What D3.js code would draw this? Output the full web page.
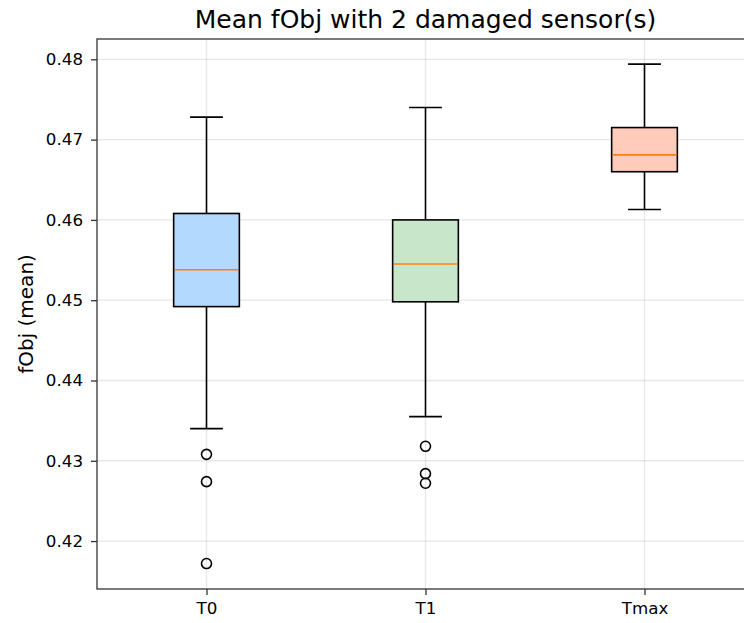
<!DOCTYPE html>
<html lang="en">
<head>
  <meta charset="UTF-8">
  <title>Mean fObj</title>
  <script src="https://d3js.org/d3.v7.min.js"></script>
  <style>
    body { margin: 0; background: #fff; }
    text { font-family: "DejaVu Sans", sans-serif; fill: #000; }
  </style>
</head>
<body>
  <svg width="744" height="623"></svg>
  <script>
    // box stats
    const categories = ["T0", "T1", "Tmax"];
    const q1 = [0.4492, 0.4498, 0.4660];
    const medians = [0.4538, 0.4545, 0.4681];
    const q3 = [0.4608, 0.4600, 0.4715];
    const whiskerLow = [0.4340, 0.4355, 0.4613];
    const whiskerHigh = [0.4728, 0.4740, 0.4794];
    const outliers = [
      [0.4308, 0.4274, 0.4172],
      [0.4318, 0.4284, 0.4272],
      []
    ];
    const boxColors = ["#b3d9ff", "#c8e6c9", "#ffccbc"];
    const yTicks = [0.42, 0.43, 0.44, 0.45, 0.46, 0.47, 0.48];

    const margin = { left: 97, top: 39, right: 754, bottom: 589 };

    const svg = d3.select("svg");

    const x = d3.scaleLinear().domain([0.5, 3.5]).range([margin.left, margin.right]);
    const y = d3.scaleLinear().domain([0.41403, 0.48253]).range([margin.bottom, margin.top]);

    // grid
    const grid = svg.append("g");
    grid.selectAll("line.h").data(yTicks).join("line")
      .attr("x1", margin.left).attr("x2", margin.right)
      .attr("y1", d => y(d)).attr("y2", d => y(d))
      .attr("stroke", "#b0b0b0").attr("stroke-opacity", 0.3).attr("stroke-width", 1.3);
    grid.selectAll("line.v").data(categories).join("line")
      .attr("x1", (d, i) => x(i + 1)).attr("x2", (d, i) => x(i + 1))
      .attr("y1", margin.top).attr("y2", margin.bottom)
      .attr("stroke", "#b0b0b0").attr("stroke-opacity", 0.3).attr("stroke-width", 1.3);

    const boxW = x(1.15) - x(0.85);
    const capW = x(1.075) - x(0.925);
    const lw = 1.6;

    const boxes = svg.append("g").selectAll("g").data(categories).join("g");

    // whiskers
    boxes.append("line")
      .attr("x1", (d, i) => x(i + 1)).attr("x2", (d, i) => x(i + 1))
      .attr("y1", (d, i) => y(q3[i])).attr("y2", (d, i) => y(whiskerHigh[i]))
      .attr("stroke", "#000").attr("stroke-width", lw);
    boxes.append("line")
      .attr("x1", (d, i) => x(i + 1)).attr("x2", (d, i) => x(i + 1))
      .attr("y1", (d, i) => y(q1[i])).attr("y2", (d, i) => y(whiskerLow[i]))
      .attr("stroke", "#000").attr("stroke-width", lw);
    // caps
    boxes.append("line")
      .attr("x1", (d, i) => x(i + 1) - capW / 2).attr("x2", (d, i) => x(i + 1) + capW / 2)
      .attr("y1", (d, i) => y(whiskerHigh[i])).attr("y2", (d, i) => y(whiskerHigh[i]))
      .attr("stroke", "#000").attr("stroke-width", lw);
    boxes.append("line")
      .attr("x1", (d, i) => x(i + 1) - capW / 2).attr("x2", (d, i) => x(i + 1) + capW / 2)
      .attr("y1", (d, i) => y(whiskerLow[i])).attr("y2", (d, i) => y(whiskerLow[i]))
      .attr("stroke", "#000").attr("stroke-width", lw);
    // box
    boxes.append("rect")
      .attr("x", (d, i) => x(i + 1) - boxW / 2)
      .attr("width", boxW)
      .attr("y", (d, i) => y(q3[i]))
      .attr("height", (d, i) => y(q1[i]) - y(q3[i]))
      .attr("fill", (d, i) => boxColors[i])
      .attr("stroke", "#000").attr("stroke-width", lw);
    // median
    boxes.append("line")
      .attr("x1", (d, i) => x(i + 1) - boxW / 2 + 1).attr("x2", (d, i) => x(i + 1) + boxW / 2 - 1)
      .attr("y1", (d, i) => y(medians[i])).attr("y2", (d, i) => y(medians[i]))
      .attr("stroke", "#ff7f0e").attr("stroke-width", lw);
    // fliers
    boxes.each(function (d, i) {
      d3.select(this).selectAll("circle").data(outliers[i]).join("circle")
        .attr("cx", x(i + 1)).attr("cy", v => y(v)).attr("r", 5)
        .attr("fill", "none").attr("stroke", "#000").attr("stroke-width", lw);
    });

    // axes
    const yAxis = svg.append("g")
      .attr("transform", `translate(${margin.left},0)`)
      .call(d3.axisLeft(y).tickValues(yTicks).tickFormat(d3.format(".2f")).tickSize(6).tickPadding(8));
    const xAxis = svg.append("g")
      .attr("transform", `translate(0,${margin.bottom})`)
      .call(d3.axisBottom(x).tickValues([1, 2, 3]).tickFormat((d, i) => categories[i]).tickSize(6).tickPadding(7));
    [yAxis, xAxis].forEach(a => {
      a.select(".domain").remove();
      a.selectAll("line").attr("stroke", "#333").attr("stroke-width", 1.3);
      a.selectAll("text").style("font-size", "16.7px").attr("fill", "#000");
    });

    // frame
    svg.append("rect")
      .attr("x", margin.left).attr("y", margin.top)
      .attr("width", margin.right - margin.left).attr("height", margin.bottom - margin.top)
      .attr("fill", "none").attr("stroke", "#333").attr("stroke-width", 1.3);

    svg.append("text")
      .attr("x", (margin.left + margin.right) / 2).attr("y", 27.5)
      .attr("text-anchor", "middle").style("font-size", "25px")
      .text("Mean fObj with 2 damaged sensor(s)");

    svg.append("text")
      .attr("transform", `translate(33,${(margin.top + margin.bottom) / 2}) rotate(-90)`)
      .attr("text-anchor", "middle").style("font-size", "20px")
      .text("fObj (mean)");
  </script>
</body>
</html>
